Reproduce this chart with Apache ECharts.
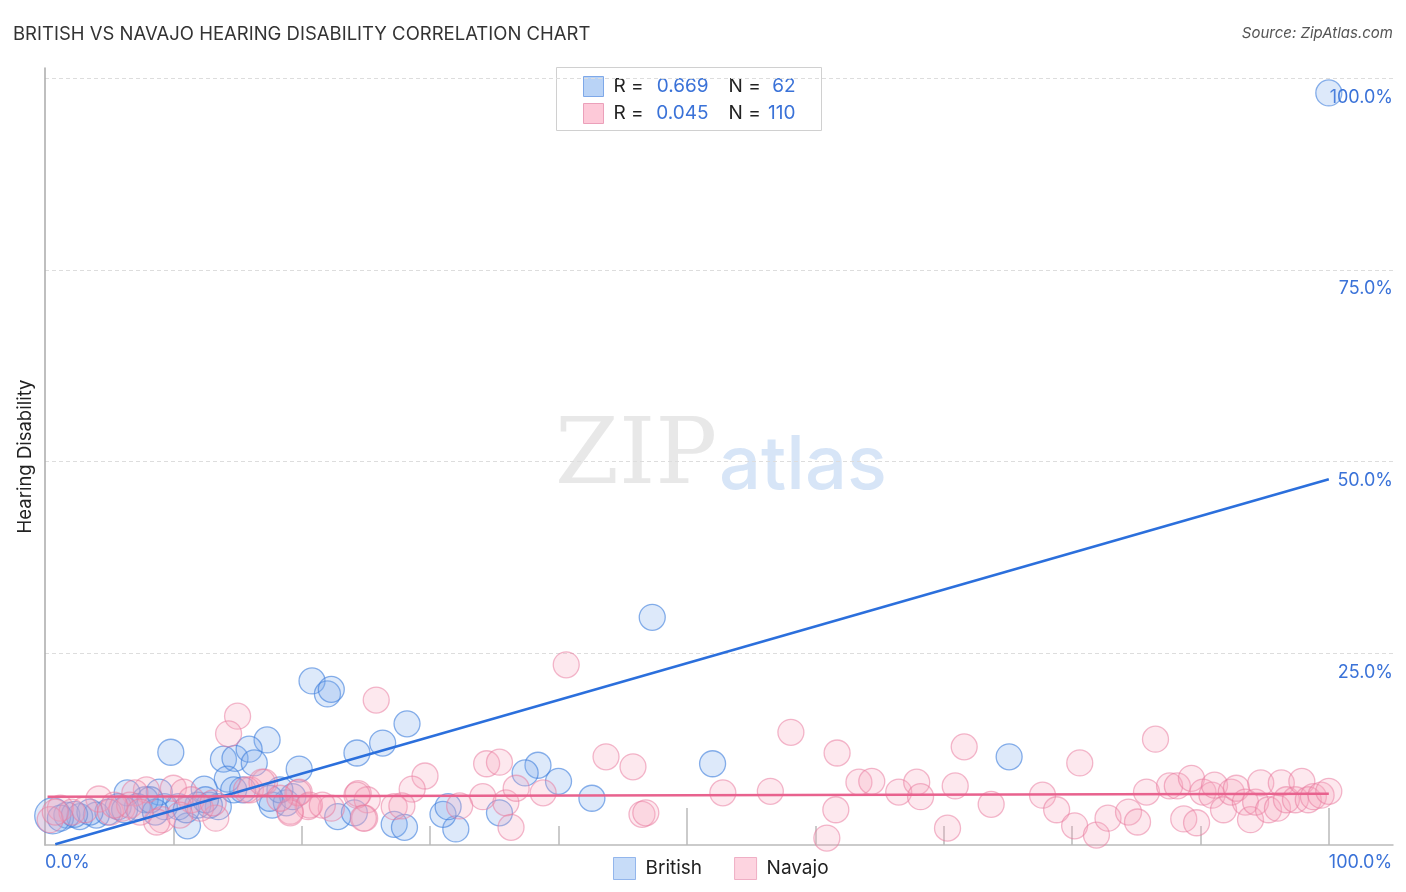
<!DOCTYPE html>
<html><head><meta charset="utf-8">
<script src="https://cdn.jsdelivr.net/npm/echarts@6/dist/echarts.min.js"></script>
<style>html,body{margin:0;padding:0;background:#fff}#c{width:1406px;height:892px}</style>
</head><body><div id="c"></div>
<script>
const seriesNames = ['British', 'Navajo'];
// [x %, y %, optional symbol diameter]
const britishPoints = [
  [100,98.1],[47.3,29.7],[20.8,21.4],[22.0,19.7],[22.3,20.3],[17.3,13.7],[9.8,12.1],[13.9,11.2],
  [14.8,11.3],[15.9,12.5],[16.3,10.7],[19.8,9.9],[24.3,12.0],[26.3,13.3],[28.2,15.8],[38.4,10.4],
  [37.4,9.4],[40.0,8.3],[42.6,6.1],[52.0,10.6],[75.1,11.5],[35.4,4.2],[32.0,2.1],[31.0,4.0],
  [31.4,5.0],[17.7,5.2],[18.8,5.5],[19.3,6.3],[22.8,3.7],[24.1,4.2],[27.2,2.7],[28.0,2.3],
  [14.2,8.6],[15.4,7.2],[12.4,7.3],[11.1,2.5],[13.5,5.0],[12.8,5.2],[11.9,5.2],[10.4,5.0],
  [9.3,5.0],[8.9,6.9],[7.8,5.9],[6.4,6.8],[7.2,5.0],[5.7,5.0],[4.0,3.9],[2.7,3.7],
  [1.7,3.9],[0.6,3.8,36],[1.2,3.5],[4.9,4.3],[3.5,4.3],[2.3,4.0],[8.6,4.3],[11.0,4.6],
  [18.3,7.2],[14.7,7.2],[8.2,5.9],[6.2,4.6],[17.5,6.1],[12.5,5.9]
];
const navajoPoints = [
  [40.6,23.5],[25.8,18.9],[15.0,16.8],[14.3,14.5],[58.1,14.7],[86.5,13.8],[71.6,12.8],[61.7,12.0],
  [43.7,11.5],[80.6,10.7],[34.4,10.6],[35.4,10.8],[45.8,10.2],[29.6,9.0],[28.6,7.3],[24.4,6.7],
  [25.1,5.9],[24.9,3.5],[22.3,4.8],[27.2,5.0],[27.8,5.1],[19.8,6.9],[20.5,5.0],[19.1,4.4],
  [16.0,7.2],[17.1,8.2],[34.1,6.3],[35.9,5.5],[36.7,7.4],[38.8,6.8],[36.3,2.3],[46.5,4.0],
  [46.8,4.2],[52.8,6.8],[56.5,7.0],[61.6,4.6],[60.9,0.9],[63.4,8.2],[64.4,8.3],[66.5,6.9],
  [67.9,8.2],[68.2,6.3],[70.9,7.7],[70.3,2.2],[73.7,5.3],[77.7,6.5],[78.8,4.6],[80.2,2.5],
  [81.9,1.3],[82.8,3.5],[84.4,4.3],[85.1,3.0],[85.8,6.9],[87.6,7.7],[88.2,7.7],[88.7,3.4],
  [89.3,8.7],[89.7,2.9],[90.2,6.9],[90.9,6.5],[91.1,7.8],[91.8,4.6],[92.4,6.9],[92.8,7.4],
  [93.5,5.6],[93.9,3.3],[94.3,5.6],[94.7,8.1],[95.3,4.6],[96.0,4.8],[96.3,8.1],[96.7,5.9],
  [97.4,5.9],[97.9,8.3],[98.4,5.9],[98.8,6.3],[99.4,6.5],[100,7.0],[4.2,6.0],[7.9,7.2],
  [10.0,7.4],[10.8,6.9],[9.1,3.3],[8.7,3.0],[13.3,3.5],[15.7,7.2],[16.9,8.2],[19.7,6.8],
  [20.6,5.2],[19.1,4.2],[24.3,6.5],[24.8,3.5],[7.0,6.8],[1.2,4.8],[2.1,4.3],[3.1,4.6],
  [5.1,4.3],[6.0,4.8],[6.6,5.2],[11.4,5.9],[12.1,4.8],[13.1,5.5],[0.4,3.3],[0.8,4.3],
  [5.4,5.2],[7.4,4.3],[10.5,3.9],[18.3,6.1],[21.6,5.2],[32.3,5.1]
];
const britishTrend = [[0.8, 0.1], [100, 47.7]];
const navajoTrend = [[0.2, 6.3], [100, 6.7]];
const statR = ['0.669', '0.045'];
const statN = ['62', '110'];
const yLabelValues = [25, 50, 75, 100];
const xMinorTickValues = [10, 20, 30, 40, 50, 60, 70, 80, 90, 100];
const xMajorTickValues = [50, 100];
const xLabelValues = [0, 100];
const titleText = 'BRITISH VS NAVAJO HEARING DISABILITY CORRELATION CHART';
const sourceText = 'Source: ZipAtlas.com';
const yAxisTitle = 'Hearing Disability';

const FONT = 'Inter, "Noto Sans", sans-serif';
const BLUE_TXT = '#3a72d8';
const chart = echarts.init(document.getElementById('c'), null, {renderer: 'canvas'});

const X_MAX = 105, Y_MAX = 101.35;
const pct = v => v.toFixed(1) + '%';

const legendBox = {
  type: 'group', left: 556, top: 67,
  children: [
    {type: 'rect', shape: {x: 0, y: 0, width: 265, height: 63}, style: {fill: '#fff', stroke: '#d0d0d0', lineWidth: 1}},
    {type: 'rect', shape: {x: 27, y: 9, width: 20, height: 20}, style: {fill: '#b9d3f6', stroke: '#7ea8e8', lineWidth: 1}},
    {type: 'rect', shape: {x: 27, y: 36, width: 20, height: 20}, style: {fill: '#fdc9d8', stroke: '#eba0ba', lineWidth: 1}},
    {type: 'text', x: 57, y: 19, style: {text: 'R = ', fill: '#222', font: '19px ' + FONT, verticalAlign: 'middle'}},
    {type: 'text', x: 57, y: 46, style: {text: 'R = ', fill: '#222', font: '19px ' + FONT, verticalAlign: 'middle'}},
    {type: 'text', x: 152, y: 19, style: {text: statR[0], fill: BLUE_TXT, font: '19px ' + FONT, align: 'right', verticalAlign: 'middle'}},
    {type: 'text', x: 152, y: 46, style: {text: statR[1], fill: BLUE_TXT, font: '19px ' + FONT, align: 'right', verticalAlign: 'middle'}},
    {type: 'text', x: 172, y: 19, style: {text: 'N = ', fill: '#222', font: '19px ' + FONT, verticalAlign: 'middle'}},
    {type: 'text', x: 172, y: 46, style: {text: 'N = ', fill: '#222', font: '19px ' + FONT, verticalAlign: 'middle'}},
    {type: 'text', x: 239, y: 19, style: {text: statN[0], fill: BLUE_TXT, font: '19px ' + FONT, align: 'right', verticalAlign: 'middle'}},
    {type: 'text', x: 239, y: 46, style: {text: statN[1], fill: BLUE_TXT, font: '19px ' + FONT, align: 'right', verticalAlign: 'middle'}}
  ]
};

const option = {
  backgroundColor: '#fff',
  animation: false,
  title: [
    {text: titleText, left: 13, top: 25, padding: 0, textStyle: {fontFamily: FONT, fontSize: 18.5, fontWeight: 'normal', color: '#333'}},
    {text: sourceText, right: 13, top: 26, padding: 0, textStyle: {fontFamily: FONT, fontSize: 15, fontWeight: 'normal', fontStyle: 'italic', color: '#555'}}
  ],
  graphic: [
    {type: 'text', left: 555, top: 413, z: 0, style: {text: 'ZIP', fill: 'rgba(150,150,150,0.22)', font: '92px "DejaVu Serif", serif'}},
    {type: 'text', left: 719, top: 430, z: 0, style: {text: 'atlas', fill: 'rgba(110,160,225,0.28)', font: '500 74px ' + FONT}},
    legendBox
  ],
  legend: {
    left: 608, top: 852, itemWidth: 22, itemHeight: 22, itemGap: 32,
    textStyle: {fontFamily: FONT, fontSize: 19, color: '#222', padding: [0, 0, 0, 5]},
    data: [
      {name: seriesNames[0], icon: 'rect', itemStyle: {color: '#b9d3f6', borderColor: '#7ea8e8', borderWidth: 1}},
      {name: seriesNames[1], icon: 'rect', itemStyle: {color: '#fdc9d8', borderColor: '#eba0ba', borderWidth: 1}}
    ]
  },
  grid: {left: 45, right: 13, top: 68, bottom: 47, containLabel: false},
  xAxis: [
    {
      type: 'value', min: 0, max: X_MAX, position: 'bottom',
      axisLine: {show: true, lineStyle: {color: '#bbb', width: 1.5}},
      axisTick: {show: true, inside: true, length: 19, customValues: xMinorTickValues, lineStyle: {color: '#bbb', width: 1.5}},
      axisLabel: {show: true, customValues: xLabelValues, formatter: pct, align: 'left', margin: 9,
        fontFamily: FONT, fontSize: 18, color: BLUE_TXT},
      splitLine: {show: false}
    },
    {
      type: 'value', min: 0, max: X_MAX, position: 'bottom',
      axisLine: {show: false},
      axisTick: {show: true, inside: true, length: 37, customValues: xMajorTickValues, lineStyle: {color: '#bbb', width: 1.5}},
      axisLabel: {show: false},
      splitLine: {show: false}
    }
  ],
  yAxis: [
    {
      type: 'value', min: 0, max: Y_MAX, interval: 25, position: 'left',
      name: yAxisTitle, nameLocation: 'middle', nameGap: 10,
      nameTextStyle: {fontFamily: FONT, fontSize: 18.5, color: '#222'},
      axisLine: {show: true, lineStyle: {color: '#aaa', width: 1.5}},
      axisTick: {show: false},
      axisLabel: {show: false},
      splitLine: {show: true, showMinLine: false, showMaxLine: false, lineStyle: {color: '#dddddd', type: [4, 3], width: 1}}
    },
    {
      type: 'value', min: 0, max: Y_MAX, position: 'right',
      axisLine: {show: false}, axisTick: {show: false}, splitLine: {show: false},
      axisLabel: {show: true, inside: true, customValues: yLabelValues, formatter: pct, margin: 0,
        verticalAlign: 'top', lineHeight: 18, padding: [10, 0, 0, 0],
        fontFamily: FONT, fontSize: 18, color: BLUE_TXT}
    }
  ],
  series: [
    {
      name: seriesNames[0], type: 'scatter', data: britishPoints,
      symbolSize: d => d[2] || 26,
      itemStyle: {color: 'rgba(125,170,235,0.32)', borderColor: 'rgba(60,125,220,0.75)', borderWidth: 1.3},
      z: 3
    },
    {
      name: seriesNames[1], type: 'scatter', data: navajoPoints,
      symbolSize: d => d[2] || 26,
      itemStyle: {color: 'rgba(247,165,190,0.32)', borderColor: 'rgba(232,120,158,0.65)', borderWidth: 1.3},
      z: 3
    },
    {
      name: seriesNames[0] + ' trend', type: 'line', data: britishTrend, symbol: 'none', silent: true,
      lineStyle: {color: '#2b6fdc', width: 2.5}, z: 5
    },
    {
      name: seriesNames[1] + ' trend', type: 'line', data: navajoTrend, symbol: 'none', silent: true,
      lineStyle: {color: '#e8628e', width: 2.5}, z: 5
    }
  ]
};
chart.setOption(option);
</script></body></html>
